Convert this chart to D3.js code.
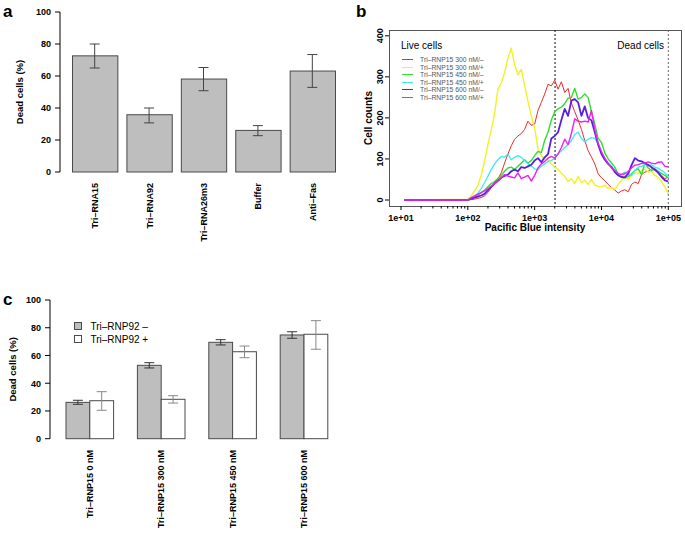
<!DOCTYPE html>
<html>
<head>
<meta charset="utf-8">
<script src="https://cdn.jsdelivr.net/npm/d3@7"></script>
<style>
body { margin: 0; background: #fff; }
text { font-family: "Liberation Sans", Arial, Helvetica, sans-serif; }
</style>
</head>
<body>
<div id="chart"></div>
<script>
// ---- panel a data ----
const aCategories = ["Tri–RNA15", "Tri–RNA92", "Tri–RNA26m3", "Buffer", "Anti–Fas"];
const aMeans = [72.6, 35.8, 58.1, 26.0, 63.1];
const aLower = [65.0, 30.7, 50.8, 22.7, 52.9];
const aUpper = [80.0, 40.0, 65.3, 29.0, 73.4];
const pctTicks = [0, 20, 40, 60, 80, 100];

// ---- panel b data (log10 of intensity, counts) ----
const logBins = [1.05, 2.00, 2.05, 2.10, 2.15, 2.20, 2.25, 2.30, 2.35, 2.40, 2.45, 2.50, 2.55, 2.60, 2.65, 2.70,
  2.75, 2.80, 2.85, 2.90, 2.95, 3.00, 3.05, 3.10, 3.15, 3.20, 3.25, 3.30, 3.35, 3.40, 3.45, 3.50, 3.55, 3.60,
  3.65, 3.70, 3.75, 3.80, 3.85, 3.90, 3.95, 4.00, 4.05, 4.10, 4.15, 4.20, 4.25, 4.30, 4.35, 4.40, 4.45, 4.50,
  4.55, 4.60, 4.65, 4.70, 4.75, 4.80, 4.85, 4.90, 4.95, 5.00];
const flowLabels = ["Tri–RNP15 300 nM/–", "Tri–RNP15 300 nM/+", "Tri–RNP15 450 nM/–",
  "Tri–RNP15 450 nM/+", "Tri–RNP15 600 nM/–", "Tri–RNP15 600 nM/+"];
const counts300minus = [0, 0, 1, 2, 4, 6, 10, 18, 30, 42, 52, 66, 90, 112, 132, 148, 156, 162, 172, 192, 182, 185,
  218, 238, 258, 282, 278, 292, 270, 288, 262, 272, 236, 215, 195, 172, 145, 120, 105, 88, 64, 54, 47, 38, 30, 24,
  17, 22, 25, 20, 38, 44, 40, 62, 68, 70, 76, 72, 68, 60, 52, 56];
const counts300plus = [0, 2, 10, 22, 35, 60, 95, 135, 170, 210, 270, 285, 310, 345, 370, 330, 305, 318, 280, 240,
  205, 175, 125, 108, 100, 98, 88, 80, 75, 65, 58, 45, 52, 40, 58, 42, 48, 38, 50, 37, 33, 32, 36, 28, 30, 26, 38,
  48, 58, 50, 60, 66, 64, 72, 75, 68, 70, 60, 55, 45, 32, 15];
const counts450minus = [0, 0, 3, 7, 12, 18, 24, 32, 40, 45, 52, 60, 70, 78, 80, 74, 82, 90, 98, 90, 96, 108, 118,
  116, 145, 165, 195, 215, 222, 226, 235, 248, 250, 272, 246, 250, 258, 250, 215, 185, 150, 140, 115, 100, 90, 80,
  62, 55, 54, 57, 64, 72, 76, 62, 90, 78, 72, 76, 70, 64, 60, 54];
const counts450plus = [0, 1, 4, 9, 16, 28, 42, 58, 74, 88, 98, 106, 104, 112, 98, 104, 108, 104, 96, 88, 82, 76,
  74, 82, 88, 94, 96, 102, 112, 120, 128, 135, 145, 160, 165, 150, 142, 148, 152, 150, 138, 115, 100, 90, 82, 74,
  60, 62, 68, 64, 60, 72, 80, 82, 86, 84, 86, 80, 77, 72, 66, 57];
const counts600minus = [0, 0, 3, 6, 8, 11, 15, 24, 32, 40, 47, 54, 59, 62, 70, 74, 70, 80, 78, 82, 86, 96, 102,
  92, 104, 112, 150, 156, 165, 195, 222, 205, 242, 246, 238, 205, 228, 200, 194, 165, 135, 112, 98, 88, 80, 68,
  60, 56, 55, 64, 85, 102, 96, 94, 90, 85, 80, 74, 66, 56, 48, 45];
const counts600plus = [0, 0, 6, 10, 14, 18, 22, 28, 34, 40, 46, 54, 62, 58, 56, 54, 66, 52, 56, 60, 46, 60, 78,
  88, 94, 102, 106, 102, 112, 128, 148, 135, 162, 198, 192, 190, 192, 190, 218, 172, 138, 118, 102, 90, 78, 72,
  65, 62, 64, 70, 78, 85, 86, 89, 90, 93, 90, 88, 92, 93, 82, 81];
const flowCounts = [counts300minus, counts300plus, counts450minus, counts450plus, counts600minus, counts600plus];
const countTicks = [0, 100, 200, 300, 400];
const intensityTicks = [1e1, 1e2, 1e3, 1e4, 1e5];
const gateIntensities = [2020, 1e5];

// ---- panel c data ----
const cCategories = ["Tri–RNP15 0 nM", "Tri–RNP15 300 nM", "Tri–RNP15 450 nM", "Tri–RNP15 600 nM"];
const cSeries = ["Tri–RNP92 –", "Tri–RNP92 +"];
const cMinus = [26.2, 52.9, 69.5, 74.8];
const cMinusLower = [24.8, 51.0, 67.6, 72.4];
const cMinusUpper = [27.7, 54.8, 71.4, 77.1];
const cPlus = [27.4, 28.4, 62.7, 75.3];
const cPlusLower = [20.5, 25.7, 58.4, 64.5];
const cPlusUpper = [33.9, 31.0, 66.8, 85.1];

const W = 685, H = 540;
const svg = d3.select("#chart").append("svg")
  .attr("width", W).attr("height", H)
  .style("display", "block");
svg.append("rect").attr("width", W).attr("height", H).attr("fill", "#fff");

const barFill = "#bebebe", barStroke = "#4a4a4a";

function panelLabel(txt, x, y) {
  svg.append("text").attr("x", x).attr("y", y)
    .attr("font-size", 17).attr("font-weight", "bold").text(txt);
}

function pctAxis(g, y, x0) {
  g.append("line").attr("x1", x0).attr("x2", x0)
    .attr("y1", y(0)).attr("y2", y(100)).attr("stroke", "#000");
  pctTicks.forEach(t => {
    g.append("line").attr("x1", x0 - 5).attr("x2", x0).attr("y1", y(t)).attr("y2", y(t)).attr("stroke", "#000");
    g.append("text").attr("x", x0 - 9).attr("y", y(t) + 3.3)
      .attr("text-anchor", "end").attr("font-size", 9).attr("font-weight", "bold").text(t);
  });
}

function errBar(g, cx, lo, hi, y, color) {
  const c = 5;
  g.append("line").attr("x1", cx).attr("x2", cx).attr("y1", y(lo)).attr("y2", y(hi)).attr("stroke", color);
  g.append("line").attr("x1", cx - c).attr("x2", cx + c).attr("y1", y(lo)).attr("y2", y(lo)).attr("stroke", color);
  g.append("line").attr("x1", cx - c).attr("x2", cx + c).attr("y1", y(hi)).attr("y2", y(hi)).attr("stroke", color);
}

// ================= panel a =================
{
  const g = svg.append("g");
  const x = d3.scaleBand().domain(aCategories).range([72, 335]).paddingInner(1 / 6).paddingOuter(0);
  const y = d3.scaleLinear().domain([0, 100]).range([172, 12]);
  g.selectAll("rect.bar").data(aCategories).enter().append("rect")
    .attr("x", d => x(d) + 0.5).attr("width", x.bandwidth())
    .attr("y", (d, i) => y(aMeans[i])).attr("height", (d, i) => y(0) - y(aMeans[i]))
    .attr("fill", barFill).attr("stroke", barStroke);
  aCategories.forEach((d, i) => errBar(g, x(d) + x.bandwidth() / 2, aLower[i], aUpper[i], y, "#444"));
  pctAxis(g, y, 60);
  g.append("text").attr("transform", `translate(23,${y(50)}) rotate(-90)`)
    .attr("text-anchor", "middle").attr("font-size", 9.5).attr("font-weight", "bold").text("Dead cells (%)");
  aCategories.forEach(d => {
    g.append("text").attr("transform", `translate(${x(d) + x.bandwidth() / 2 + 3.5},183) rotate(-90)`)
      .attr("text-anchor", "end").attr("font-size", 9).attr("font-weight", "bold").text(d);
  });
  panelLabel("a", 3, 17);
}

// ================= panel b =================
{
  const g = svg.append("g");
  const left = 389, right = 681, top = 30, bottom = 206;
  const x = d3.scaleLog().domain([1e1, 1e5]).range([401, 668.3]);
  const y = d3.scaleLinear().domain([0, 400]).range([200, 35.8]);

  g.append("defs").append("clipPath").attr("id", "plotClip")
    .append("rect").attr("x", left).attr("y", top).attr("width", right - left).attr("height", bottom - top);

  g.append("rect").attr("x", left + 0.5).attr("y", top + 0.5).attr("width", right - left).attr("height", bottom - top)
    .attr("fill", "none").attr("stroke", "#555");

  // gates
  gateIntensities.forEach((v, i) => {
    g.append("line").attr("x1", x(v)).attr("x2", x(v)).attr("y1", top).attr("y2", bottom)
      .attr("stroke", i === 0 ? "#111" : "#666").attr("stroke-dasharray", "2,2");
  });

  const colors = ["#ee2a2a", "#f2f222", "#2ee02e", "#3ee8f2", "#5a1ee0", "#ee22ee"];
  const widths = [1, 1.4, 1.4, 1.3, 1.8, 1.4];
  const line = d3.line().x((d, i) => x(Math.pow(10, logBins[i]))).y(d => y(d));
  const lines = g.append("g").attr("clip-path", "url(#plotClip)");
  flowCounts.forEach((s, k) => {
    lines.append("path").attr("d", line(s)).attr("fill", "none")
      .attr("stroke", colors[k]).attr("stroke-width", widths[k]).attr("stroke-linejoin", "round");
  });

  // x axis
  intensityTicks.forEach(t => {
    g.append("line").attr("x1", x(t)).attr("x2", x(t)).attr("y1", bottom).attr("y2", bottom + 4).attr("stroke", "#000");
    g.append("text").attr("x", x(t)).attr("y", bottom + 15).attr("text-anchor", "middle")
      .attr("font-size", 9).attr("font-weight", "bold").text(t.toExponential(0).replace("e+", "e+0"));
    if (t < 1e5) {
      d3.range(2, 10).forEach(m => {
        g.append("line").attr("x1", x(t * m)).attr("x2", x(t * m)).attr("y1", bottom).attr("y2", bottom + 2.5)
          .attr("stroke", "#000");
      });
    }
  });
  g.append("text").attr("x", 535).attr("y", bottom + 25).attr("text-anchor", "middle")
    .attr("font-size", 10).attr("font-weight", "bold").text("Pacific Blue intensity");

  // y axis
  countTicks.forEach(t => {
    g.append("line").attr("x1", left - 4).attr("x2", left).attr("y1", y(t)).attr("y2", y(t)).attr("stroke", "#000");
    g.append("text").attr("transform", `translate(${left - 6},${y(t)}) rotate(-90)`)
      .attr("text-anchor", "middle").attr("font-size", 9).attr("font-weight", "bold").text(t);
  });
  g.append("text").attr("transform", `translate(372,${(top + bottom) / 2}) rotate(-90)`)
    .attr("text-anchor", "middle").attr("font-size", 10).attr("font-weight", "bold").text("Cell counts");

  g.append("text").attr("x", 401).attr("y", 48.5).attr("font-size", 10).text("Live cells");
  g.append("text").attr("x", 664).attr("y", 48.5).attr("text-anchor", "end").attr("font-size", 10).text("Dead cells");

  flowLabels.forEach((lab, k) => {
    const ly = Math.round(59 + k * 7.6) + 0.5;
    g.append("line").attr("x1", 402).attr("x2", 413).attr("y1", ly).attr("y2", ly)
      .attr("stroke", colors[k]).attr("stroke-width", 1);
    g.append("text").attr("x", 420).attr("y", ly + 2.4).attr("font-size", 6.8).attr("fill", "#555").text(lab);
  });
  panelLabel("b", 356, 17);
}

// ================= panel c =================
{
  const g = svg.append("g");
  const x = d3.scaleBand().domain(cCategories).range([65.5, 327.3]).paddingInner(1 / 3).paddingOuter(0);
  const xs = d3.scaleBand().domain(cSeries).range([0, x.bandwidth()]);
  const y = d3.scaleLinear().domain([0, 100]).range([438.7, 300]);
  const vals = [cMinus, cPlus], lows = [cMinusLower, cPlusLower], highs = [cMinusUpper, cPlusUpper];
  const fills = [barFill, "#ffffff"], errCols = ["#333", "#888"];
  cSeries.forEach((s, k) => {
    g.selectAll("rect.s" + k).data(cCategories).enter().append("rect")
      .attr("x", d => x(d) + xs(s) + 0.5).attr("width", xs.bandwidth())
      .attr("y", (d, i) => y(vals[k][i])).attr("height", (d, i) => y(0) - y(vals[k][i]))
      .attr("fill", fills[k]).attr("stroke", barStroke);
  });
  cSeries.forEach((s, k) => {
    cCategories.forEach((d, i) => errBar(g, x(d) + xs(s) + xs.bandwidth() / 2 + 0.5, lows[k][i], highs[k][i], y, errCols[k]));
  });
  pctAxis(g, y, 50);
  g.append("text").attr("transform", `translate(16,${y(50)}) rotate(-90)`)
    .attr("text-anchor", "middle").attr("font-size", 9.5).attr("font-weight", "bold").text("Dead cells (%)");
  cCategories.forEach(d => {
    g.append("text").attr("transform", `translate(${x(d) + x.bandwidth() / 2 + 3.5},450) rotate(-90)`)
      .attr("text-anchor", "end").attr("font-size", 9).attr("font-weight", "bold").text(d);
  });
  cSeries.forEach((s, k) => {
    const ly = 322.5 + k * 13;
    g.append("rect").attr("x", 74.5).attr("y", ly).attr("width", 7).attr("height", 7)
      .attr("fill", fills[k]).attr("stroke", barStroke);
    g.append("text").attr("x", 90.5).attr("y", ly + 7).attr("font-size", 10).text(s);
  });
  panelLabel("c", 3, 305);
}
</script>
</body>
</html>
